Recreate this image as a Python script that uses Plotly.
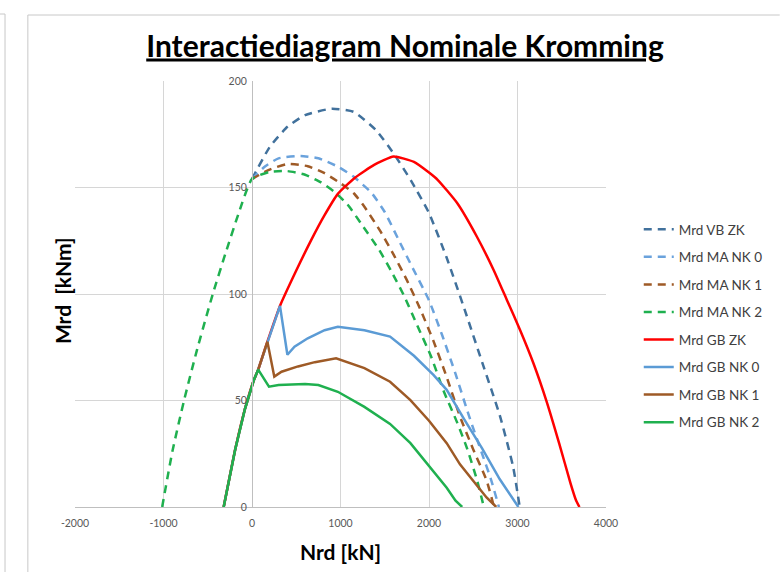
import plotly.graph_objects as go

# ---- data (N in kN, M in kNm) ----
vb_zk_n = [0, 200, 400, 600, 900, 1150, 1400, 1600, 1800, 2000, 2200, 2400, 2600, 2800, 2950, 3025]
vb_zk_m = [154, 169, 178.5, 184, 187, 185.5, 177, 166, 153, 138, 117, 93, 68, 43, 19, 0]

ma_nk0_n = [0, 150, 300, 550, 750, 970, 1150, 1350, 1500, 1650, 1800, 2000, 2150, 2300, 2450, 2600, 2700, 2790]
ma_nk0_m = [154, 160, 163.7, 164.8, 163.7, 159.8, 155, 147.5, 138.5, 126, 113.5, 97, 80.5, 62.5, 43, 25, 13, 0]

ma_nk1_n = [0, 185, 400, 630, 820, 1000, 1150, 1270, 1450, 1600, 1750, 1900, 2050, 2200, 2350, 2500, 2650, 2735]
ma_nk1_m = [154, 158.2, 161, 160, 156.7, 152, 147.3, 141, 129.5, 118.5, 106.5, 93, 78, 61, 42.5, 27, 12.5, 0]

ma_nk2_n = [-1015, -900, -768, -620, -443, -300, -150, 0, 200, 400, 600, 780, 930, 1080, 1250, 1440,
            1570, 1720, 1870, 2020, 2170, 2320, 2430, 2540, 2620]
ma_nk2_m = [0, 26, 50, 74, 100, 119, 138, 154, 157.3, 157.7, 156, 152.4, 148, 142, 132, 120.5,
            111, 99, 85, 71, 54, 39.5, 27.5, 13, 0]

gb_zk_n = [-320, -190, -80, 20, 70, 174, 316, 500, 670, 820, 970, 1160, 1380, 1600, 1830, 2000, 2100,
           2320, 2540, 2730, 2880, 3030, 3180, 3330, 3470, 3600, 3660, 3700]
gb_zk_m = [0, 27, 46, 59.5, 64.5, 77.6, 94.4, 111, 125.4, 137, 147, 154.5, 160.6, 164.5, 162, 157, 153.5,
           142.6, 127, 111.3, 97.2, 83, 67.5, 49.4, 30, 11, 3.3, 0]

gb_nk0_n = [-320, -190, -80, 20, 70, 174, 316, 400, 480, 630, 820, 970, 1270, 1560, 1830, 2050, 2200,
            2400, 2600, 2800, 2900, 3010]
gb_nk0_m = [0, 27, 46, 59.5, 64.5, 77.6, 94.4, 71.5, 75.3, 79.2, 83, 84.6, 83, 80, 71, 62, 55,
            41, 27.5, 13, 7, 0]

gb_nk1_n = [-320, -190, -80, 20, 70, 174, 252, 334, 520, 710, 950, 1270, 1560, 1790, 2000, 2200,
            2350, 2500, 2650, 2760]
gb_nk1_m = [0, 27, 46, 59.5, 64.5, 77.6, 61.2, 63.5, 66, 68, 69.8, 65.2, 58.8, 50.2, 40.5, 30,
            20, 12, 4.5, 0]

gb_nk2_n = [-320, -190, -80, 20, 70, 192, 300, 600, 750, 970, 1270, 1560, 1790, 2000, 2200, 2300, 2375]
gb_nk2_m = [0, 27, 46, 59.5, 64.5, 56.5, 57.3, 57.7, 57.3, 54.1, 47, 39, 30, 19.5, 9, 3, 0]

series = [
    ("Mrd VB ZK", vb_zk_n, vb_zk_m, "#41719c", "8px,6px", "spline"),
    ("Mrd MA NK 0", ma_nk0_n, ma_nk0_m, "#6aa2dc", "8px,6px", "spline"),
    ("Mrd MA NK 1", ma_nk1_n, ma_nk1_m, "#9e5a26", "8px,6px", "spline"),
    ("Mrd MA NK 2", ma_nk2_n, ma_nk2_m, "#1fb04f", "8px,6px", "spline"),
    ("Mrd GB ZK", gb_zk_n, gb_zk_m, "#ff0000", "solid", "spline"),
    ("Mrd GB NK 0", gb_nk0_n, gb_nk0_m, "#5b9bd5", "solid", "linear"),
    ("Mrd GB NK 1", gb_nk1_n, gb_nk1_m, "#9e5a26", "solid", "linear"),
    ("Mrd GB NK 2", gb_nk2_n, gb_nk2_m, "#1fb04f", "solid", "linear"),
]

x_ticks = [-2000, -1000, 0, 1000, 2000, 3000, 4000]
y_ticks = [0, 50, 100, 150, 200]

FONT = "Lato"

fig = go.Figure()
for name, n, m, color, dash, shape in series:
    fig.add_trace(go.Scatter(
        x=n, y=m, mode="lines", name=name, legendgroup=name,
        line=dict(color=color, width=2.5, dash=dash, shape=shape, smoothing=0.5),
        hoverinfo="x+y+name",
    ))

W, H = 780, 572
L, R, T, B = 75, 170, 81, 65
pw, ph = W - L - R, H - T - B


def px2x(px):
    return (px - L) / pw


def py2y(py):
    return (H - B - py) / ph


fig.update_layout(
    width=W, height=H,
    margin=dict(l=L, r=R, t=T, b=B, pad=0),
    paper_bgcolor="white", plot_bgcolor="white",
    font=dict(family=FONT, color="#404040"),
    title=dict(
        text="<b>Interactiediagram Nominale Kromming</b>",
        font=dict(family=FONT, size=30, color="#000000", lineposition="under"),
        x=405 / W, xref="container", xanchor="center",
        y=1 - 46 / H, yref="container", yanchor="middle",
    ),
    xaxis=dict(
        range=[-2000, 4000], tickvals=x_ticks, ticktext=[str(v) for v in x_ticks],
        showgrid=True, gridcolor="#d6d6d6", gridwidth=1,
        zeroline=False, showline=True, linecolor="#bfbfbf", linewidth=1,
        ticks="", tickfont=dict(family=FONT, size=10.5, color="#595959"),
        ticklabelstandoff=6, fixedrange=True,
    ),
    yaxis=dict(
        range=[0, 200], tickvals=y_ticks, ticktext=[str(v) for v in y_ticks],
        showgrid=True, gridcolor="#d6d6d6", gridwidth=1,
        zeroline=False, showline=True, linecolor="#bfbfbf", linewidth=1,
        anchor="free", position=(0 - (-2000)) / 6000,
        ticks="", tickfont=dict(family=FONT, size=10.5, color="#595959"),
        ticklabelstandoff=3, fixedrange=True,
    ),
    legend=dict(
        x=px2x(643), xanchor="left", y=py2y(214), yanchor="top",
        font=dict(family=FONT, size=13.5, color="#404040"),
        tracegroupgap=7, bgcolor="rgba(0,0,0,0)",
    ),
    showlegend=True,
)

# axis titles
fig.add_annotation(
    text="<b>Mrd\u00a0 [kNm]</b>", xref="paper", yref="paper",
    x=px2x(62), y=py2y(291), textangle=-90, showarrow=False,
    font=dict(family=FONT, size=21, color="#000000"), xanchor="center", yanchor="middle",
)
fig.add_annotation(
    text="<b>Nrd [kN]</b>", xref="paper", yref="paper",
    x=px2x(343), y=py2y(551), showarrow=False,
    font=dict(family=FONT, size=21, color="#000000"), xanchor="center", yanchor="middle",
)

# chart-area borders (Excel style frame)
border = dict(color="#c8c8c8", width=1)
fig.add_shape(type="line", xref="paper", yref="paper", x0=px2x(27.5), x1=px2x(27.5), y0=py2y(15), y1=py2y(575), line=border)
fig.add_shape(type="line", xref="paper", yref="paper", x0=px2x(27.5), x1=px2x(785), y0=py2y(15), y1=py2y(15), line=border)
fig.add_shape(type="line", xref="paper", yref="paper", x0=px2x(4.5), x1=px2x(4.5), y0=py2y(14), y1=py2y(575), line=border)
fig.add_shape(type="line", xref="paper", yref="paper", x0=px2x(-5), x1=px2x(4.5), y0=py2y(14), y1=py2y(14), line=border)

fig.write_html(
    "out.html",
    config={"displayModeBar": False},
    post_script="document.body.style.margin='0';document.body.style.overflow='hidden';",
)
